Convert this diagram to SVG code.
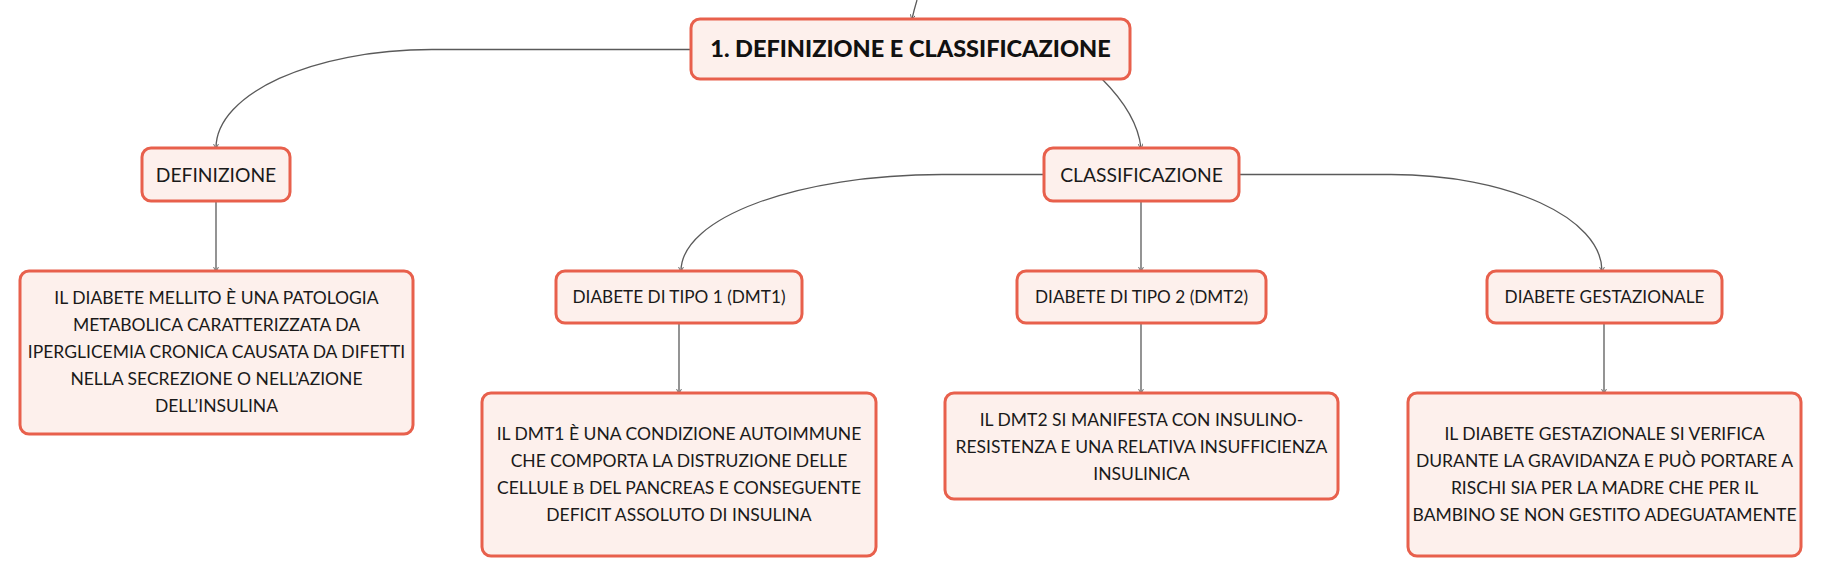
<svg xmlns="http://www.w3.org/2000/svg" width="1821" height="577" viewBox="0 0 1821 577">
<defs>
<style>
.box{fill:#fdf0ec;stroke:#e8604c;stroke-width:3}
.t{font-family:Lato,"Open Sans","Liberation Sans",sans-serif;font-size:17.5px;fill:#1a1a1a;text-anchor:middle}
.l1{font-size:19.3px}
.l2{font-size:17.2px}
.title{font-family:Lato,"Open Sans","Liberation Sans",sans-serif;font-size:23.5px;font-weight:900;fill:#111;text-anchor:middle}
.c{fill:none;stroke:#5a5a5a;stroke-width:1.3;marker-end:url(#a)}
.beta{font-family:"Liberation Serif",serif}
</style>
<marker id="a" viewBox="0 0 6 6" refX="5" refY="3" markerWidth="4" markerHeight="4" orient="auto" markerUnits="strokeWidth">
<path d="M0,0 L6,3 L0,6" fill="none" stroke="#5a5a5a" stroke-width="1"/>
</marker>
</defs>
<rect width="1821" height="577" fill="#ffffff"/>
<g id="connectors">
<path class="c" d="M917 0 Q914 10 912 19"/>
<path class="c" d="M691 49.5 L432 49.5 C312.7 49.5 216 93.8 216 148"/>
<path class="c" d="M1102 79 C1120 97 1138 120 1141 148"/>
<path class="c" d="M216 201 L216 271"/>
<path class="c" d="M1044 174.5 L942 174.5 C797.9 174.5 681 217.7 681 271"/>
<path class="c" d="M1141 201 L1141 271"/>
<path class="c" d="M1239 174.5 L1391 174.5 C1507.5 174.5 1602 217.7 1602 271"/>
<path class="c" d="M679 323 L679 393"/>
<path class="c" d="M1141 323 L1141 393"/>
<path class="c" d="M1604 323 L1604 393"/>
</g>
<g id="root">
<rect class="box" x="691" y="19" width="439" height="60" rx="9"/>
<text class="title" x="910.5" y="57">1. DEFINIZIONE E CLASSIFICAZIONE</text>
</g>
<g id="definizione">
<rect class="box" x="142" y="148" width="148" height="53" rx="9"/>
<text class="t l1" x="216" y="182">DEFINIZIONE</text>
</g>
<g id="definizione-testo">
<rect class="box" x="20" y="271" width="393" height="163" rx="9"/>
<text class="t" x="216.5" y="304">IL DIABETE MELLITO È UNA PATOLOGIA</text>
<text class="t" x="216.5" y="331">METABOLICA CARATTERIZZATA DA</text>
<text class="t" x="216.5" y="358">IPERGLICEMIA CRONICA CAUSATA DA DIFETTI</text>
<text class="t" x="216.5" y="385">NELLA SECREZIONE O NELL’AZIONE</text>
<text class="t" x="216.5" y="412">DELL’INSULINA</text>
</g>
<g id="classificazione">
<rect class="box" x="1044" y="148" width="195" height="53" rx="9"/>
<text class="t l1" x="1141.5" y="182">CLASSIFICAZIONE</text>
</g>
<g id="dmt1">
<rect class="box" x="556" y="271" width="246" height="52" rx="9"/>
<text class="t l2" x="679" y="303">DIABETE DI TIPO 1 (DMT1)</text>
</g>
<g id="dmt1-testo">
<rect class="box" x="482" y="393" width="394" height="163" rx="9"/>
<text class="t" x="679" y="440">IL DMT1 È UNA CONDIZIONE AUTOIMMUNE</text>
<text class="t" x="679" y="467">CHE COMPORTA LA DISTRUZIONE DELLE</text>
<text class="t" x="679" y="494">CELLULE <tspan class="beta">Β</tspan> DEL PANCREAS E CONSEGUENTE</text>
<text class="t" x="679" y="521">DEFICIT ASSOLUTO DI INSULINA</text>
</g>
<g id="dmt2">
<rect class="box" x="1017" y="271" width="249" height="52" rx="9"/>
<text class="t l2" x="1141.5" y="303">DIABETE DI TIPO 2 (DMT2)</text>
</g>
<g id="dmt2-testo">
<rect class="box" x="945" y="393" width="393" height="106" rx="9"/>
<text class="t" x="1141.5" y="426">IL DMT2 SI MANIFESTA CON INSULINO-</text>
<text class="t" x="1141.5" y="453">RESISTENZA E UNA RELATIVA INSUFFICIENZA</text>
<text class="t" x="1141.5" y="480">INSULINICA</text>
</g>
<g id="gestazionale">
<rect class="box" x="1487" y="271" width="235" height="52" rx="9"/>
<text class="t l2" x="1604.5" y="303">DIABETE GESTAZIONALE</text>
</g>
<g id="gestazionale-testo">
<rect class="box" x="1408" y="393" width="393" height="163" rx="9"/>
<text class="t" x="1604.5" y="440">IL DIABETE GESTAZIONALE SI VERIFICA</text>
<text class="t" x="1604.5" y="467">DURANTE LA GRAVIDANZA E PUÒ PORTARE A</text>
<text class="t" x="1604.5" y="494">RISCHI SIA PER LA MADRE CHE PER IL</text>
<text class="t" x="1604.5" y="521">BAMBINO SE NON GESTITO ADEGUATAMENTE</text>
</g>
</svg>
